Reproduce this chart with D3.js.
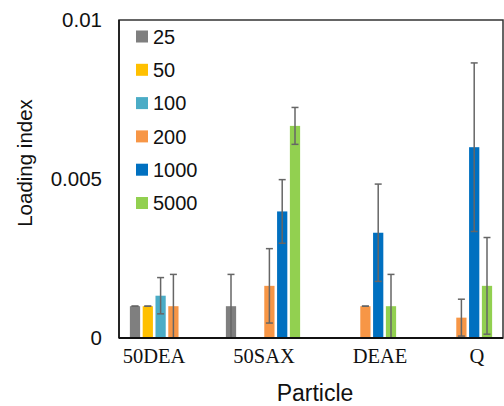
<!DOCTYPE html>
<html><head><meta charset="utf-8">
<script src="https://cdn.jsdelivr.net/npm/d3@7"></script>
<style>body{margin:0;background:#fff}svg{display:block}</style>
</head><body>
<svg id="c" width="504" height="406"></svg>
<script>
const categories = ["50DEA", "50SAX", "DEAE", "Q"];
const seriesNames = ["25", "50", "100", "200", "1000", "5000"];
const seriesColors = ["#7f7f7f", "#ffc000", "#4bacc6", "#f79646", "#0070c0", "#92d050"];
// values per series, in order of categories (null = no bar)
const v25   = [0.0010, 0.0010, null, null];
const v50   = [0.0010, null, null, null];
const v100  = [0.00133, null, null, null];
const v200  = [0.0010, 0.00164, 0.0010, 0.00064];
const v1000 = [null, 0.00398, 0.00331, 0.0060];
const v5000 = [null, 0.00667, 0.0010, 0.00164];
// error (± half-range)
const e25   = [0, 0.0010, null, null];
const e50   = [0, null, null, null];
const e100  = [0.00057, null, null, null];
const e200  = [0.0010, 0.00117, 0, 0.00058];
const e1000 = [null, 0.0010, 0.00153, 0.00265];
const e5000 = [null, 0.00058, 0.0010, 0.00152];
const yTicks = [0, 0.005, 0.01];
const yTickLabels = ["0", "0.005", "0.01"];

const values = [v25, v50, v100, v200, v1000, v5000];
const errors = [e25, e50, e100, e200, e1000, e5000];

const svg = d3.select("#c");
const L = 119, R = 503, T = 20, B = 338;

const x0 = d3.scaleBand().domain(categories).range([L, R]).paddingInner(0).paddingOuter(0);
const x1 = d3.scaleBand().domain(seriesNames).range([0, x0.bandwidth()]).paddingInner(0.2).paddingOuter(0.85);
const y = d3.scaleLinear().domain([0, 0.01]).range([B, T]);

const data = [];
seriesNames.forEach((s, si) => {
  categories.forEach((c, ci) => {
    const v = values[si][ci];
    if (v !== null) data.push({s, c, v, e: errors[si][ci], color: seriesColors[si]});
  });
});

// frame
svg.append("rect").attr("x", L).attr("y", T).attr("width", R - L).attr("height", B - T)
  .attr("fill", "none").attr("stroke", "#333").attr("stroke-width", 1.5);

const g = svg.append("g");
g.selectAll("rect.bar").data(data).join("rect").attr("class", "bar")
  .attr("x", d => x0(d.c) + x1(d.s))
  .attr("width", x1.bandwidth())
  .attr("y", d => y(d.v))
  .attr("height", d => y(0) - y(d.v))
  .attr("fill", d => d.color);

const cap = 3.5;
const eg = g.selectAll("g.err").data(data).join("g").attr("class", "err")
  .attr("stroke", "#666").attr("stroke-width", 1.5);
eg.each(function(d) {
  const cx = x0(d.c) + x1(d.s) + x1.bandwidth() / 2;
  const hi = y(d.v + d.e), lo = y(Math.max(0, d.v - d.e));
  const s = d3.select(this);
  s.append("line").attr("x1", cx).attr("x2", cx).attr("y1", hi).attr("y2", lo);
  s.append("line").attr("x1", cx - cap).attr("x2", cx + cap).attr("y1", hi).attr("y2", hi);
  s.append("line").attr("x1", cx - cap).attr("x2", cx + cap).attr("y1", lo).attr("y2", lo);
});

// axes lines
svg.append("line").attr("x1", L).attr("x2", R).attr("y1", B).attr("y2", B).attr("stroke", "#111").attr("stroke-width", 2);
svg.append("line").attr("x1", L).attr("x2", L).attr("y1", T).attr("y2", B).attr("stroke", "#111").attr("stroke-width", 1.5);

// y tick labels
const yAxis = d3.axisLeft(y).tickValues(yTicks).tickFormat((d, i) => yTickLabels[i]).tickSize(0).tickPadding(17);
const ya = svg.append("g").attr("transform", `translate(${L},0)`).call(yAxis);
ya.select(".domain").remove();
ya.selectAll("text").attr("font-family", "Liberation Sans, Arial, sans-serif").attr("font-size", 20.5).attr("fill", "#111");

// x tick labels
const labelShift = {"50DEA": -13, "50SAX": 1, "DEAE": 21, "Q": 22};
const xAxis = d3.axisBottom(x0).tickSize(0).tickPadding(10);
const xa = svg.append("g").attr("transform", `translate(0,${B})`).call(xAxis);
xa.select(".domain").remove();
xa.selectAll("text").attr("font-family", "Liberation Serif, Times New Roman, serif").attr("font-size", 20.5).attr("fill", "#111")
  .attr("dx", d => labelShift[d]);

// axis titles
svg.append("text").attr("x", 315).attr("y", 401).attr("text-anchor", "middle")
  .attr("font-family", "Liberation Sans, Arial, sans-serif").attr("font-size", 23).attr("fill", "#111").text("Particle");
svg.append("text").attr("transform", "translate(32,163) rotate(-90)").attr("text-anchor", "middle")
  .attr("font-family", "Liberation Sans, Arial, sans-serif").attr("font-size", 20.5).attr("fill", "#111").text("Loading index");

// legend
const lg = svg.append("g");
seriesNames.forEach((s, i) => {
  const cy = 36.5 + i * 33.3;
  lg.append("rect").attr("x", 136).attr("y", cy - 6).attr("width", 12).attr("height", 12).attr("fill", seriesColors[i]);
  lg.append("text").attr("x", 153).attr("y", cy).attr("dy", "0.36em")
    .attr("font-family", "Liberation Sans, Arial, sans-serif").attr("font-size", 20).attr("fill", "#111").text(s);
});
</script>
</body></html>
